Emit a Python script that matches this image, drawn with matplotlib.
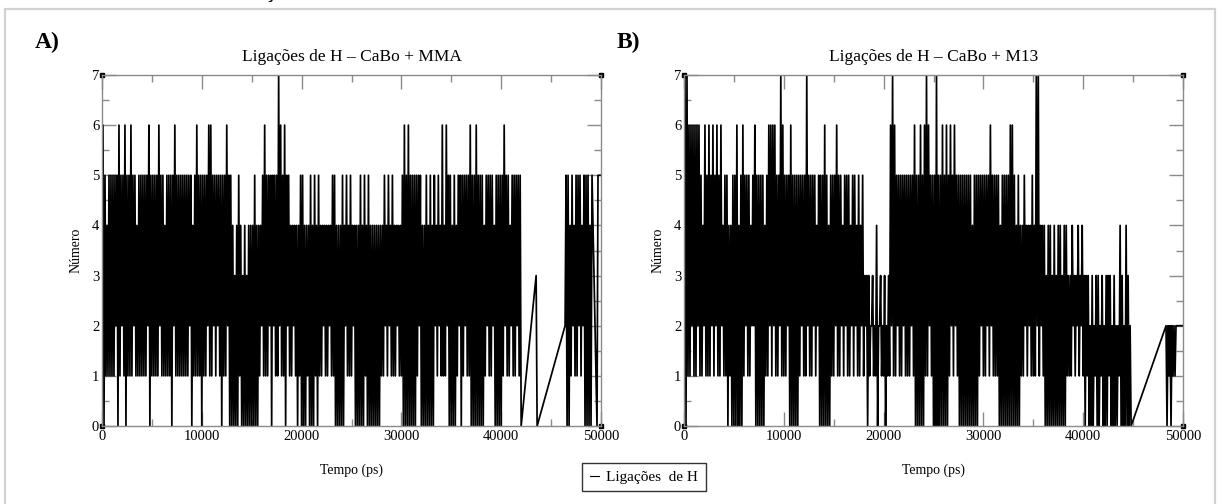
import numpy as np
import matplotlib.pyplot as plt
from matplotlib.patches import Rectangle
from matplotlib.ticker import MultipleLocator

plt.rcParams['font.family'] = ['Liberation Serif', 'DejaVu Serif']

# número de ligações de H ao longo da simulação (um dígito por 100 ps,
# mínimos e máximos alternados em cada bloco de 200 ps)
mma_low = ("1011111201210111211111120"
           "1111211111021111111201111"
           "0112112121011200000100000"
           "0000121112021121102112101"
           "0001000101121121100000211"
           "1200000100000001121211121"
           "1000000012000000021211120"
           "0001201211000000012112000"
           "0121121121")
mma_high = ("6545555565565565545555565"
            "5556554555565555555545655"
            "5556655555556554345434344"
            "4544456555555765655444445"
            "5444545454444445544454545"
            "4444545454444444545454444"
            "5656555555445454545464655"
            "4545555556556555455554555"
            "5655455555")
mma_tail_low = "20012112120000"
mma_tail_high = "55454555455545"

m13_low = ("0011211211211121211211010"
           "0000012112200000112121121"
           "1120000012112112120000001"
           "1211212112121121201211021"
           "1011211211211121000001121"
           "0000000012121000000000012"
           "1121211100000000000112121"
           "1121210000000000011121212"
           "101000100100010000100000")
m13_high = ("7766666654656565656455445"
            "5645655545655554566665576"
            "5556555555575555455565455"
            "5655455545545453332324232"
            "3236765555555556556567655"
            "5755656565655555555455555"
            "5556555545555665454454445"
            "4774443443434434433433434"
            "333232332323332322432432")
m13_tail = "202120212122222222"


def mix(low, high):
    return ''.join(a + b for a, b in zip(low, high))


# (início em ps, dígitos) de cada trecho contínuo
mma_segments = [(0, mix(mma_low, mma_high)), (42000, '0'), (43500, '30'),
                (46400, mix(mma_tail_low, mma_tail_high)), (49600, '05555')]
m13_segments = [(0, mix(m13_low, m13_high)), (44800, '0'), (48300, m13_tail)]

titles = ['Ligações de H – CaBo + MMA', 'Ligações de H – CaBo + M13']
letters = ['A)', 'B)']


def build(segments):
    t, v = [], []
    for t0, digits in segments:
        for i, c in enumerate(digits):
            t.append(t0 + 100 * i)
            v.append(int(c))
    return np.array(t), np.array(v)


W, H = 1220, 504
fig = plt.figure(figsize=(W / 100, H / 100), dpi=100)

# moldura da figura no documento
fig.add_artist(Rectangle((5 / W, -0.1), 1210 / W, 1.1 - 9 / H, transform=fig.transFigure,
                         fill=False, edgecolor='#d2d2d2', lw=1.6))
fig.text(270 / W, 1 + 1.5 / H, 'ç', fontsize=14, fontweight='bold', ha='center', va='baseline')

frame = '#8a8a8a'
lines = []
for k, (segs, left) in enumerate([(mma_segments, 102), (m13_segments, 684)]):
    ax = fig.add_axes([left / W, (H - 426) / H, 499 / W, 351 / H])
    t, v = build(segs)
    ln, = ax.plot(t, v, color='black', lw=1.25)
    lines.append(ln)
    ax.plot([0, 50000, 0, 50000], [0, 0, 7, 7], 's', ms=3.3, color='black', clip_on=False)
    ax.set_xlim(0, 50000)
    ax.set_ylim(0, 7)
    ax.xaxis.set_major_locator(MultipleLocator(10000))
    ax.xaxis.set_minor_locator(MultipleLocator(5000))
    ax.yaxis.set_major_locator(MultipleLocator(1))
    ax.yaxis.set_minor_locator(MultipleLocator(0.5))
    ax.tick_params(which='both', direction='in', top=True, right=True, color=frame,
                   labelsize=10.5, width=1)
    ax.tick_params(which='major', length=10)
    ax.tick_params(which='minor', length=5)
    ax.tick_params(axis='y', pad=2)
    ax.tick_params(axis='x', pad=3)
    for s in ax.spines.values():
        s.set_color(frame)
        s.set_linewidth(1)
    ax.set_title(titles[k], fontsize=12.5, pad=10)
    ax.set_xlabel('Tempo (ps)', fontsize=10, labelpad=15)
    ax.set_ylabel('Número', fontsize=10, labelpad=7)
    fig.text((left - 67) / W, 1 - 42 / H, letters[k], fontsize=17, fontweight='bold',
             va='center', ha='left')

leg = fig.legend([lines[0]], ['Ligações  de H'], loc='center',
                 bbox_to_anchor=(644 / W, 1 - 477 / H), frameon=True, fancybox=False,
                 edgecolor='#333333', framealpha=1, handlelength=0.6, handletextpad=0.5,
                 borderpad=0.5, fontsize=11)
leg.get_frame().set_linewidth(1)
leg.get_lines()[0].set_linewidth(0.8)

fig.savefig('out.png', dpi=100)
